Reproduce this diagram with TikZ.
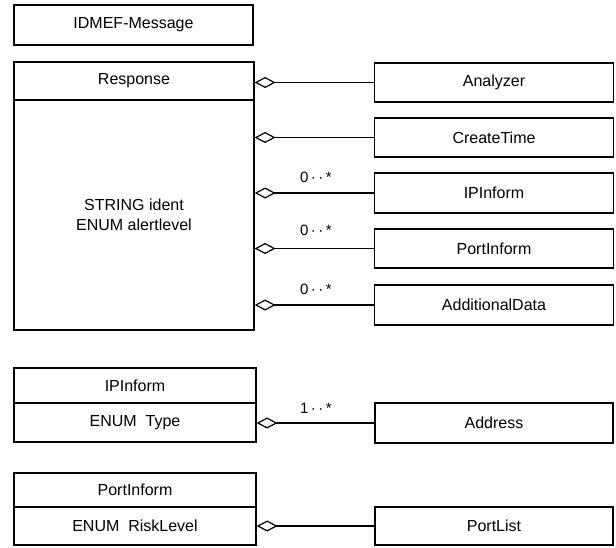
\documentclass[tikz,border=0pt]{standalone}
\usepackage{fontspec}
\setmainfont{Liberation Sans}
\usetikzlibrary{arrows.meta}
\begin{document}
\begin{tikzpicture}[x=1pt,y=-1pt,
  box/.style={draw, line width=1.2pt, rectangle, inner sep=0pt, font=\fontsize{16}{20}\selectfont, align=center},
  agg/.style={line width=1.2pt, -{Diamond[open,length=21pt,width=11pt,line width=1.2pt]}},
  mult/.style={font=\fontsize{15}{17}\selectfont, inner sep=0pt}]
\useasboundingbox (0,0) rectangle (616,547);

\node[box, minimum width=239pt, minimum height=40pt] (msg) at (133.5,25) {IDMEF-Message};

\node[box, minimum width=240pt, minimum height=38pt] (resphead) at (134,81) {Response};
\node[box, minimum width=240pt, minimum height=230pt] (respbody) at (134,215) {STRING ident\\ENUM alertlevel};

\node[box, minimum width=239pt, minimum height=39pt] (analyzer) at (494,82.5) {Analyzer};
\node[box, minimum width=239pt, minimum height=39pt] (createtime) at (494,137.5) {CreateTime};
\node[box, minimum width=239pt, minimum height=40pt] (ipinform) at (494,193) {IPInform};
\node[box, minimum width=239pt, minimum height=39pt] (portinform) at (494,248.5) {PortInform};
\node[box, minimum width=239pt, minimum height=40pt] (additional) at (494,305) {AdditionalData};

\draw[agg] (analyzer.west) -- (analyzer.west -| respbody.east);
\draw[agg] (createtime.west) -- (createtime.west -| respbody.east);
\draw[agg] (ipinform.west) -- (ipinform.west -| respbody.east);
\draw[agg] (portinform.west) -- (portinform.west -| respbody.east);
\draw[agg] (additional.west) -- (additional.west -| respbody.east);

\node[mult] (m1) at (316,177) {0\,·\,·\,*};
\node[mult] (m2) at (316,230) {0\,·\,·\,*};
\node[mult] (m3) at (316,289) {0\,·\,·\,*};

\node[box, minimum width=242pt, minimum height=35pt] (iphead) at (135,385.5) {IPInform};
\node[box, minimum width=242pt, minimum height=39pt] (ipbody) at (135,422.5) {ENUM\ \ Type};
\node[box, minimum width=238pt, minimum height=40pt] (address) at (494,423) {Address};
\draw[agg] (address.west) -- (address.west -| ipbody.east);
\node[mult] (m4) at (316,408) {1\,·\,·\,*};

\node[box, minimum width=242pt, minimum height=34pt] (porthead) at (135,490) {PortInform};
\node[box, minimum width=242pt, minimum height=38pt] (portbody) at (135,526) {ENUM\ \ RiskLevel};
\node[box, minimum width=238pt, minimum height=38pt] (portlist) at (494,526) {PortList};
\draw[agg] (portlist.west) -- (portlist.west -| portbody.east);
\end{tikzpicture}
\end{document}
